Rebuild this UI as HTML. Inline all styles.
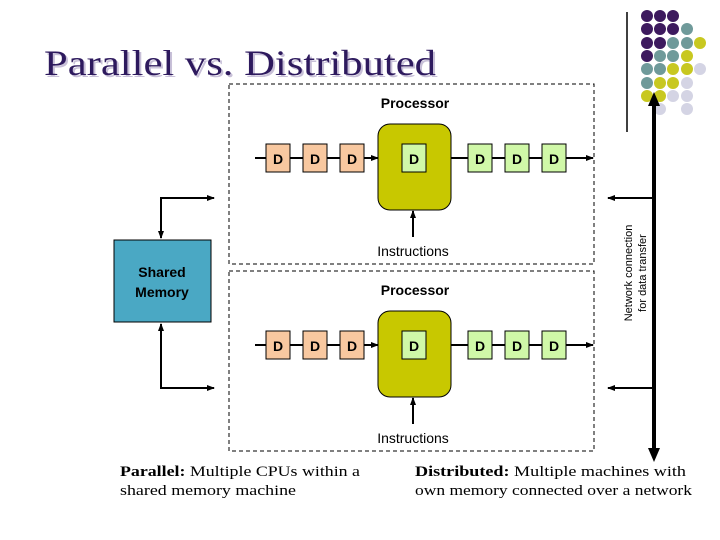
<!DOCTYPE html>
<html><head><meta charset="utf-8"><style>
html,body{margin:0;padding:0;background:#fff;width:720px;height:540px;overflow:hidden}
svg{display:block}
.s{font-family:"Liberation Sans",sans-serif}
.r{font-family:"Liberation Serif",serif}
</style></head><body>
<svg width="720" height="540" viewBox="0 0 720 540" xmlns="http://www.w3.org/2000/svg">
<defs>
<marker id="a" markerWidth="8" markerHeight="8" refX="7" refY="4" orient="auto" markerUnits="userSpaceOnUse"><path d="M0,1 L8,4 L0,7 Z" fill="#000"/></marker>
</defs>
<text x="46" y="77" class="r" font-size="36" fill="#c8c0d8" textLength="392" lengthAdjust="spacingAndGlyphs">Parallel vs. Distributed</text>
<text x="44" y="75" class="r" font-size="36" fill="#2e1a5e" textLength="392" lengthAdjust="spacingAndGlyphs">Parallel vs. Distributed</text>
<line x1="627" y1="12" x2="627" y2="132" stroke="#000" stroke-width="1.5"/>
<g>
<circle cx="647" cy="16" r="6" fill="#3d1a5e"/><circle cx="660" cy="16" r="6" fill="#3d1a5e"/><circle cx="673" cy="16" r="6" fill="#3d1a5e"/>
<circle cx="647" cy="29" r="6" fill="#3d1a5e"/><circle cx="660" cy="29" r="6" fill="#3d1a5e"/><circle cx="673" cy="29" r="6" fill="#3d1a5e"/><circle cx="687" cy="29" r="6" fill="#6f9a9a"/>
<circle cx="647" cy="43" r="6" fill="#3d1a5e"/><circle cx="660" cy="43" r="6" fill="#3d1a5e"/><circle cx="673" cy="43" r="6" fill="#6f9a9a"/><circle cx="687" cy="43" r="6" fill="#6f9a9a"/><circle cx="700" cy="43" r="6" fill="#c8c820"/>
<circle cx="647" cy="56" r="6" fill="#3d1a5e"/><circle cx="660" cy="56" r="6" fill="#6f9a9a"/><circle cx="673" cy="56" r="6" fill="#6f9a9a"/><circle cx="687" cy="56" r="6" fill="#c8c820"/>
<circle cx="647" cy="69" r="6" fill="#6f9a9a"/><circle cx="660" cy="69" r="6" fill="#6f9a9a"/><circle cx="673" cy="69" r="6" fill="#c8c820"/><circle cx="687" cy="69" r="6" fill="#c8c820"/><circle cx="700" cy="69" r="6" fill="#d4d4e4"/>
<circle cx="647" cy="83" r="6" fill="#6f9a9a"/><circle cx="660" cy="83" r="6" fill="#c8c820"/><circle cx="673" cy="83" r="6" fill="#c8c820"/><circle cx="687" cy="83" r="6" fill="#d4d4e4"/>
<circle cx="647" cy="96" r="6" fill="#c8c820"/><circle cx="660" cy="96" r="6" fill="#c8c820"/><circle cx="673" cy="96" r="6" fill="#d4d4e4"/><circle cx="687" cy="96" r="6" fill="#d4d4e4"/>
<circle cx="660" cy="109" r="6" fill="#d4d4e4"/><circle cx="687" cy="109" r="6" fill="#d4d4e4"/>
</g>
<line x1="654" y1="100" x2="654" y2="450" stroke="#000" stroke-width="4"/>
<path d="M648,448 L660,448 L654,462 Z" fill="#000"/>
<path d="M654,92 L648,106 L660,106 Z" fill="#000"/>
<line x1="654" y1="198" x2="608" y2="198" stroke="#000" stroke-width="2" marker-end="url(#a)"/>
<line x1="654" y1="388" x2="608" y2="388" stroke="#000" stroke-width="2" marker-end="url(#a)"/>
<text transform="translate(632,273) rotate(-90)" class="s" font-size="11" text-anchor="middle">Network connection</text>
<text transform="translate(646,273) rotate(-90)" class="s" font-size="11" text-anchor="middle">for data transfer</text>
<rect x="114" y="240" width="97" height="82" fill="#4aa8c4" stroke="#000" stroke-width="1"/>
<text x="162" y="277" class="s" font-size="14" font-weight="bold" text-anchor="middle">Shared</text>
<text x="162" y="297" class="s" font-size="14" font-weight="bold" text-anchor="middle">Memory</text>
<path d="M214,198 L161,198 L161,238" fill="none" stroke="#000" stroke-width="2" marker-end="url(#a)"/>
<line x1="161" y1="198" x2="214" y2="198" stroke="#000" stroke-width="2" marker-end="url(#a)"/>
<path d="M214,388 L161,388 L161,324" fill="none" stroke="#000" stroke-width="2" marker-end="url(#a)"/>
<line x1="161" y1="388" x2="214" y2="388" stroke="#000" stroke-width="2" marker-end="url(#a)"/>
<g id="p">
<rect x="229" y="84" width="365" height="180" fill="none" stroke="#000" stroke-width="1" stroke-dasharray="4,3"/>
<text x="415" y="108" class="s" font-size="14" font-weight="bold" text-anchor="middle">Processor</text>
<line x1="255" y1="158" x2="378" y2="158" stroke="#000" stroke-width="2" marker-end="url(#a)"/>
<line x1="451" y1="158" x2="593" y2="158" stroke="#000" stroke-width="2" marker-end="url(#a)"/>
<rect x="266" y="144" width="24" height="28" fill="#f8c8a0" stroke="#000" stroke-width="1"/>
<rect x="303" y="144" width="24" height="28" fill="#f8c8a0" stroke="#000" stroke-width="1"/>
<rect x="340" y="144" width="24" height="28" fill="#f8c8a0" stroke="#000" stroke-width="1"/>
<text x="278" y="164" class="s" font-size="14" font-weight="bold" text-anchor="middle">D</text>
<text x="315" y="164" class="s" font-size="14" font-weight="bold" text-anchor="middle">D</text>
<text x="352" y="164" class="s" font-size="14" font-weight="bold" text-anchor="middle">D</text>
<rect x="378" y="124" width="73" height="86" rx="12" fill="#c8c800" stroke="#000" stroke-width="1"/>
<rect x="402" y="144" width="24" height="28" fill="#d0f8a8" stroke="#000" stroke-width="1"/>
<text x="414" y="164" class="s" font-size="14" font-weight="bold" text-anchor="middle">D</text>
<rect x="468" y="144" width="24" height="28" fill="#d0f8a8" stroke="#000" stroke-width="1"/>
<rect x="505" y="144" width="24" height="28" fill="#d0f8a8" stroke="#000" stroke-width="1"/>
<rect x="542" y="144" width="24" height="28" fill="#d0f8a8" stroke="#000" stroke-width="1"/>
<text x="480" y="164" class="s" font-size="14" font-weight="bold" text-anchor="middle">D</text>
<text x="517" y="164" class="s" font-size="14" font-weight="bold" text-anchor="middle">D</text>
<text x="554" y="164" class="s" font-size="14" font-weight="bold" text-anchor="middle">D</text>
<line x1="413" y1="237" x2="413" y2="211" stroke="#000" stroke-width="2" marker-end="url(#a)"/>
<text x="413" y="256" class="s" font-size="14" text-anchor="middle">Instructions</text>
</g>
<use href="#p" transform="translate(0,187)"/>
<text x="120" y="476" class="r" font-size="15" textLength="240" lengthAdjust="spacingAndGlyphs"><tspan font-weight="bold">Parallel:</tspan> Multiple CPUs within a</text>
<text x="120" y="495" class="r" font-size="15" textLength="176" lengthAdjust="spacingAndGlyphs">shared memory machine</text>
<text x="415" y="476" class="r" font-size="15" textLength="271" lengthAdjust="spacingAndGlyphs"><tspan font-weight="bold">Distributed:</tspan> Multiple machines with</text>
<text x="415" y="495" class="r" font-size="15" textLength="277" lengthAdjust="spacingAndGlyphs">own memory connected over a network</text>
</svg>
</body></html>
